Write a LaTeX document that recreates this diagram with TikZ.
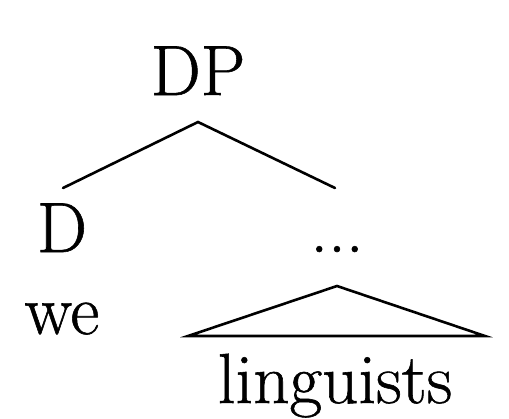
\documentclass[tikz,border=0pt]{standalone}
\usepackage{fontspec}
\newfontfamily\lmx{Latin Modern Roman}[FakeBold=0.8]
\begin{document}
\begin{tikzpicture}[x=1bp,y=-1bp,
  lbl/.style={anchor=base,inner sep=0pt,font=\lmx\fontsize{71bp}{84bp}\selectfont},
  edge/.style={line width=2.6bp,line cap=round,line join=miter}]
\useasboundingbox (0,0) rectangle (509,418);
\node[lbl] (dp) at (198,95) {DP};
\node[lbl] (d) at (62,252) {D};
\node[lbl] (we) at (62,334) {we};
\node[lbl] (dots) at (337,252) {...};
\node[lbl] (ling) at (335,403) {linguists};
\coordinate (top) at (198,122);
\coordinate (dtop) at (63,188);
\coordinate (ntop) at (335,188);
\coordinate (apex) at (337,286);
\coordinate (bl) at (188,336);
\coordinate (br) at (485,336);
\draw[edge] (dtop) -- (top) -- (ntop);
\draw[edge] (apex) -- (bl) -- (br) -- cycle;
\end{tikzpicture}
\end{document}
